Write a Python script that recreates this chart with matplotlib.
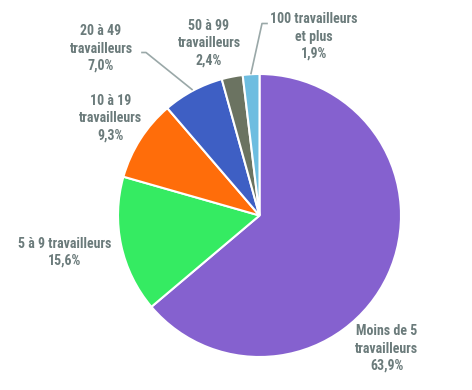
import matplotlib.pyplot as plt

categories = ['Moins de 5\ntravailleurs', '5 à 9 travailleurs', '10 à 19\ntravailleurs',
              '20 à 49\ntravailleurs', '50 à 99\ntravailleurs', '100 travailleurs\net plus']
values = [63.9, 15.6, 9.3, 7.0, 2.4, 1.9]
colors = ['#8561CF', '#35EB62', '#FF6D0A', '#3E5FC4', '#6B7361', '#6DBDE0']

# label positions (data coords, pie radius = 1)
label_pos = [(0.90, -0.94), (-1.38, -0.26), (-1.05, 0.69),
             (-1.12, 1.18), (-0.357, 1.22), (0.385, 1.265)]

fig = plt.figure(figsize=(4.72, 3.90), dpi=100)
ax = fig.add_axes([118 / 472, 33 / 390, 283 / 472, 283 / 390])

ax.pie(values, colors=colors, startangle=90, counterclock=False,
       wedgeprops=dict(edgecolor='white', linewidth=1.5))
ax.set_xlim(-1, 1)
ax.set_ylim(-1, 1)
ax.set_aspect('equal')

txt_color = '#6B7B7B'
for cat, v, (x, y) in zip(categories, values, label_pos):
    s = f"{cat}\n{v:.1f}%".replace('.', ',')
    ax.text(x, y, s, ha='center', va='center', fontsize=10, fontweight='bold',
            family=['Roboto Condensed', 'DejaVu Sans'], color=txt_color,
            linespacing=1.3, clip_on=False)

# leader lines
def px(xp, yp):
    return ((xp - 259.5) / 141.5, (215 - yp) / 141.5)

line_col = '#9AA8A8'
pts = [px(142, 52), px(146, 52), px(192, 89)]
ax.plot([p[0] for p in pts], [p[1] for p in pts], color=line_col, lw=1.2, clip_on=False)
pts = [px(267, 23), px(262, 23), px(251, 73)]
ax.plot([p[0] for p in pts], [p[1] for p in pts], color=line_col, lw=1.2, clip_on=False)

fig.savefig('out.png', dpi=100)
